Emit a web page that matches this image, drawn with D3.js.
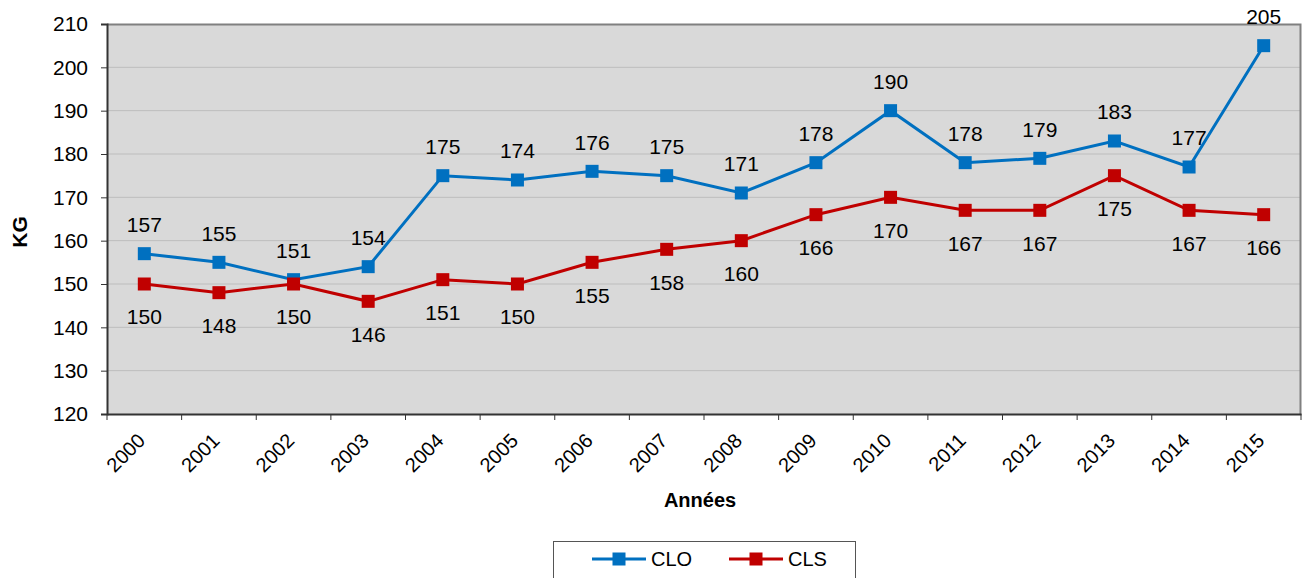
<!DOCTYPE html>
<html>
<head>
<meta charset="utf-8">
<script src="https://cdn.jsdelivr.net/npm/d3@7"></script>
<style>
  body { margin: 0; background: #fff; }
  svg { font-family: Arial, "Liberation Sans", sans-serif; }
</style>
</head>
<body>
<div id="chart"></div>
<script>
const years = ["2000","2001","2002","2003","2004","2005","2006","2007","2008","2009","2010","2011","2012","2013","2014","2015"];
const clo = [157,155,151,154,175,174,176,175,171,178,190,178,179,183,177,205];
const cls = [150,148,150,146,151,150,155,158,160,166,170,167,167,175,167,166];
const yTicks = [120,130,140,150,160,170,180,190,200,210];

const width = 1303, height = 578;
const margin = { top: 24, right: 2, bottom: 164, left: 107 };
const w = width - margin.left - margin.right;
const h = height - margin.top - margin.bottom;

const svg = d3.select("#chart").append("svg")
  .attr("width", width).attr("height", height);

const g = svg.append("g").attr("transform", `translate(${margin.left},${margin.top})`);

const x = d3.scaleBand().domain(years).range([0, w]);
const y = d3.scaleLinear().domain([120, 210]).range([h, 0]);

g.append("rect").attr("width", w).attr("height", h).attr("fill", "#d9d9d9");

g.append("g").selectAll("line").data(yTicks.slice(1, -1)).join("line")
  .attr("x1", 0).attr("x2", w)
  .attr("y1", d => y(d)).attr("y2", d => y(d))
  .attr("stroke", "#bdbdbd").attr("stroke-width", 1);

// top/right border
g.append("path").attr("d", `M0,0.5H${w - 0.5}V${h}`)
  .attr("fill", "none").attr("stroke", "#808080").attr("stroke-width", 2);

const yAxis = g.append("g")
  .call(d3.axisLeft(y).tickValues(yTicks).tickSize(6).tickPadding(13));
yAxis.select(".domain").attr("stroke", "#333").attr("stroke-width", 2);
yAxis.selectAll(".tick line").attr("stroke", "#333");
yAxis.selectAll("text").attr("font-size", 21).attr("fill", "#000");

const xAxis = g.append("g").attr("transform", `translate(0,${h})`)
  .call(d3.axisBottom(x).tickSize(0).tickFormat(""));
xAxis.select(".domain").attr("stroke", "#333").attr("stroke-width", 2);

// category boundary ticks
g.append("g").selectAll("line").data(d3.range(years.length + 1)).join("line")
  .attr("x1", i => i * x.step()).attr("x2", i => i * x.step())
  .attr("y1", h).attr("y2", h + 6)
  .attr("stroke", "#333");

g.append("g").selectAll("text").data(years).join("text")
  .attr("transform", d => `translate(${x(d) + x.bandwidth() / 2 + 2},${h + 28}) rotate(-45)`)
  .attr("text-anchor", "end")
  .attr("font-size", 20)
  .text(d => d);

const cx = (d, i) => x(years[i]) + x.bandwidth() / 2;

const series = [
  { name: "CLO", values: clo, color: "#0070c0", dy: -29 },
  { name: "CLS", values: cls, color: "#c00000", dy: 33 }
];

const line = d3.line().x((d, i) => cx(d, i)).y(d => y(d));

series.forEach(s => {
  g.append("path").datum(s.values)
    .attr("d", line)
    .attr("fill", "none").attr("stroke", s.color).attr("stroke-width", 3);
  g.append("g").selectAll("rect").data(s.values).join("rect")
    .attr("x", (d, i) => cx(d, i) - 6.5).attr("y", d => y(d) - 6.5)
    .attr("width", 13).attr("height", 13)
    .attr("fill", s.color);
  g.append("g").selectAll("text").data(s.values).join("text")
    .attr("x", (d, i) => cx(d, i)).attr("y", d => y(d) + s.dy)
    .attr("text-anchor", "middle").attr("dy", "0.35em")
    .attr("font-size", 21)
    .text(d => d);
});

svg.append("text")
  .attr("transform", `translate(20,${margin.top + h / 2 + 13}) rotate(-90)`)
  .attr("text-anchor", "middle").attr("dy", "0.35em")
  .attr("font-size", 21).attr("font-weight", "bold")
  .text("KG");

svg.append("text")
  .attr("x", 700).attr("y", 500)
  .attr("text-anchor", "middle").attr("dy", "0.35em")
  .attr("font-size", 20).attr("font-weight", "bold")
  .text("Années");

// legend
const legend = svg.append("g");
legend.append("rect")
  .attr("x", 553.5).attr("y", 541.5).attr("width", 302).attr("height", 50)
  .attr("fill", "#fff").attr("stroke", "#555").attr("stroke-width", 1);
const legX = [592, 729];
series.forEach((s, i) => {
  const lx = legX[i], ly = 559;
  legend.append("line").attr("x1", lx).attr("x2", lx + 54)
    .attr("y1", ly).attr("y2", ly)
    .attr("stroke", s.color).attr("stroke-width", 3);
  legend.append("rect").attr("x", lx + 20.5).attr("y", ly - 6.5)
    .attr("width", 13).attr("height", 13).attr("fill", s.color);
  legend.append("text").attr("x", lx + 59).attr("y", ly)
    .attr("dy", "0.35em").attr("font-size", 20).text(s.name);
});
</script>
</body>
</html>
